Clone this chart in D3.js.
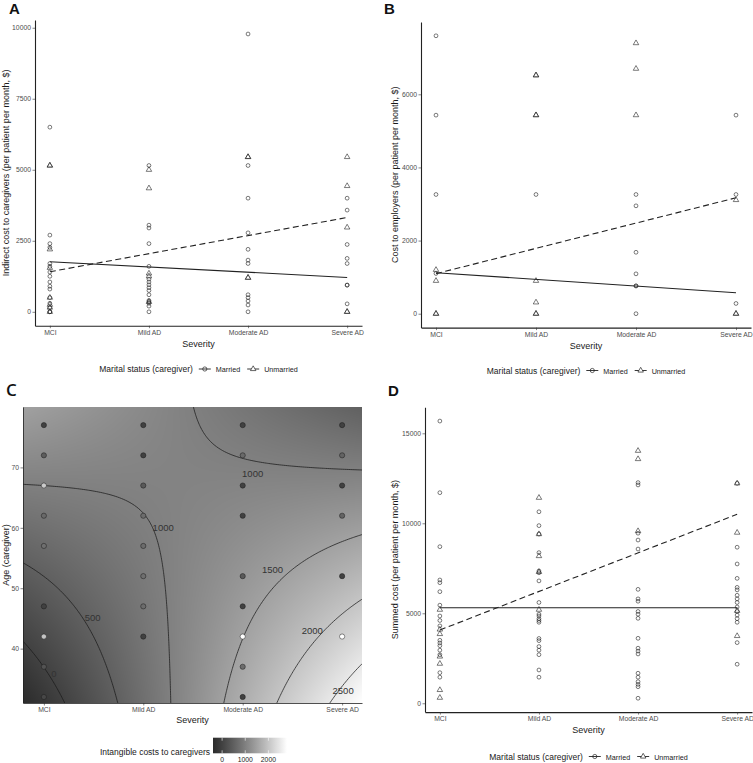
<!DOCTYPE html>
<html><head><meta charset="utf-8">
<script src="https://cdn.jsdelivr.net/npm/d3@7"></script>
<style>body{margin:0;background:#fff}</style>
</head><body>
<svg id="chart" width="753" height="763" xmlns="http://www.w3.org/2000/svg"></svg>
<script>
// ---------------- DATA ----------------
const severityLabels = ["MCI", "Mild AD", "Moderate AD", "Severe AD"];
const maritalLabels = ["Married", "Unmarried"];

// Panel A: indirect cost to caregivers ($/patient/month), per severity
const indirectMarried = [
  [6500, 2700, 2400, 2270, 1700, 1600, 1400, 1250, 1050, 900, 800, 500, 300, 150, 0, 0],
  [5150, 3050, 2950, 2400, 1600, 1150, 1050, 950, 850, 750, 600, 400, 350, 300, 200, 0],
  [9780, 5150, 4000, 2780, 2200, 1820, 1700, 600, 500, 380, 240, 0],
  [4000, 3580, 2370, 1880, 1700, 940, 940, 280]
];
const indirectUnmarried = [
  [5150, 5150, 2200, 1550, 500, 250, 150, 0],
  [5000, 4350, 1350, 1250, 350],
  [5450, 5450, 1200, 1200],
  [5450, 4430, 2970, 0, 0]
];
const indirectFitMarried = [1760, 1210];     // fitted value at MCI, Severe AD
const indirectFitUnmarried = [1410, 3320];
const indirectTicks = [0, 2500, 5000, 7500, 10000];

// Panel B: cost to employers
const employerMarried = [
  [7600, 5430, 3260, 1100],
  [3260],
  [3260, 2950, 1680, 1090, 760, 760, 0],
  [5430, 3260, 280]
];
const employerUnmarried = [
  [1200, 900, 0, 0],
  [6520, 6520, 5430, 5430, 900, 310, 0, 0],
  [7400, 6700, 5430],
  [3110, 0, 0]
];
const employerFitMarried = [1120, 575];
const employerFitUnmarried = [1095, 3170];
const employerTicks = [0, 2000, 4000, 6000];

// Panel D: summed cost
const summedMarried = [
  [15680, 11700, 8700, 6850, 6700, 6200, 5450, 4850, 4600, 4300, 3500, 3350, 3200, 2950, 2700, 1700, 1450],
  [10640, 9870, 9400, 8370, 7350, 7250, 6800, 5600, 4950, 4850, 4700, 4600, 4500, 3600, 3480, 3150, 2950, 2700, 1850, 1450],
  [12260, 12130, 9450, 9070, 8570, 6330, 5800, 5670, 5100, 4950, 4720, 3610, 3060, 2900, 2740, 1670, 1450, 1200, 1050, 920, 280],
  [12220, 8670, 7740, 6940, 6440, 6300, 6000, 5800, 5600, 5350, 5100, 4900, 4700, 4500, 3370, 2170]
];
const summedUnmarried = [
  [5200, 4100, 3850, 2600, 2200, 740, 310],
  [11420, 9400, 8180, 7300, 5200],
  [14030, 13570, 9570],
  [12220, 9480, 5140, 3740]
];
const summedFitMarried = [5310, 5310];
const summedFitUnmarried = [4070, 10500];
const summedTicks = [0, 5000, 10000, 15000];

// Panel C: intangible costs to caregivers, [age, cost] per severity
const intangibleMCI = [[77, 0], [72, 450], [67, 2100], [62, 650], [57, 750], [47, 0], [42, 2000], [37, 300], [32, 100]];
const intangibleMild = [[77, 0], [72, 0], [67, 400], [62, 700], [57, 700], [52, 750], [47, 700], [42, 0]];
const intangibleModerate = [[77, 0], [72, 650], [67, 0], [62, 0], [52, 400], [47, 0], [42, 2800], [37, 700], [32, 0]];
const intangibleSevere = [[77, 0], [72, 550], [67, 0], [62, 550], [52, 0], [42, 2800]];
// fitted surface: cost = b0 + b1*severity + b2*age + b3*severity*age
const surfaceCoef = [-2940, 1712.5, 58.25, -25];
const contourLevels = [0, 500, 1000, 1500, 2000, 2500];
// contour label anchors [severity, age, level]
const contourLabels = [[1.1, 35.8, 0], [1.49, 45.1, 500], [2.2, 60.0, 1000], [3.1, 69.0, 1000], [3.3, 53.0, 1500], [3.7, 42.9, 2000], [4.01, 33.1, 2500]];
const ageTicks = [40, 50, 60, 70];
const intangibleLegendTicks = [0, 1000, 2000];

// ---------------- DRAW ----------------
const svg = d3.select("#chart");
const FONT = "'Liberation Sans', Arial, Helvetica, sans-serif";
const TICKC = "#4d4d4d";
const sevIdx = d3.range(1, severityLabels.length + 1);

function styleAxis(sel, fs) {
  sel.selectAll("text").attr("font-family", FONT).attr("font-size", fs).attr("fill", TICKC);
  sel.selectAll(".tick line").attr("stroke", "#333").attr("stroke-width", 0.6);
  sel.select(".domain").attr("stroke", "#222").attr("stroke-width", 1.1);
}

function drawLegend(centerX, yBase) {
  const g = svg.append("g");
  const title = g.append("text").attr("x", 0).attr("y", yBase)
    .attr("font-family", FONT).attr("font-size", 8.5).attr("fill", "#1a1a1a")
    .text("Marital status (caregiver)");
  let xp = title.node().getComputedTextLength() + 6;
  maritalLabels.forEach((lab, i) => {
    const ky = yBase - 3;
    g.append("line").attr("x1", xp).attr("x2", xp + 12).attr("y1", ky).attr("y2", ky)
      .attr("stroke", "#222").attr("stroke-width", 0.9);
    if (i === 0) {
      g.append("circle").attr("cx", xp + 6).attr("cy", ky).attr("r", 2.1)
        .attr("fill", "none").attr("stroke", "#222").attr("stroke-width", 0.7);
    } else {
      g.append("path").attr("d", d3.symbol(d3.symbolTriangle).size(13)())
        .attr("transform", `translate(${xp + 6},${ky})`)
        .attr("fill", "#fff").attr("stroke", "#222").attr("stroke-width", 0.7);
    }
    const t = g.append("text").attr("x", xp + 17).attr("y", yBase)
      .attr("font-family", FONT).attr("font-size", 7.2).attr("fill", "#1a1a1a").text(lab);
    xp = xp + 17 + t.node().getComputedTextLength() + 7;
  });
  const total = xp - 7;
  g.attr("transform", `translate(${centerX - total / 2},0)`);
}

function scatterPanel(cfg) {
  const g = svg.append("g");
  const x = d3.scaleLinear().domain([1 - 0.15, severityLabels.length + 0.15]).range([cfg.left, cfg.right]);
  const vals = cfg.married.flat().concat(cfg.unmarried.flat());
  const [lo, hi] = d3.extent(vals);
  const pad = (hi - lo) * 0.05;
  const y = d3.scaleLinear().domain([lo - pad, hi + pad]).range([cfg.bottom, cfg.top]);

  const ax = g.append("g").attr("transform", `translate(0,${cfg.bottom})`)
    .call(d3.axisBottom(x).tickValues(sevIdx).tickFormat(i => severityLabels[i - 1]).tickSize(2.5).tickSizeOuter(0).tickPadding(2));
  styleAxis(ax, 6.8);
  const ay = g.append("g").attr("transform", `translate(${cfg.left},0)`)
    .call(d3.axisLeft(y).tickValues(cfg.yTicks).tickFormat(d3.format("d")).tickSize(2.5).tickSizeOuter(0).tickPadding(1.5));
  styleAxis(ay, 6.8);

  cfg.married.forEach((arr, i) => {
    g.selectAll(null).data(arr).enter().append("circle")
      .attr("cx", x(i + 1)).attr("cy", d => y(d)).attr("r", 1.9)
      .attr("fill", "none").attr("stroke", "#222").attr("stroke-width", 0.6);
  });
  cfg.unmarried.forEach((arr, i) => {
    g.selectAll(null).data(arr).enter().append("path")
      .attr("d", d3.symbol(d3.symbolTriangle).size(13)())
      .attr("transform", d => `translate(${x(i + 1)},${y(d)})`)
      .attr("fill", "none").attr("stroke", "#222").attr("stroke-width", 0.6);
  });

  const line = d3.line().x(d => x(d[0])).y(d => y(d[1]));
  const ends = [1, severityLabels.length];
  g.append("path").attr("d", line(ends.map((s, k) => [s, cfg.fitM[k]])))
    .attr("fill", "none").attr("stroke", "#222").attr("stroke-width", 1.1);
  g.append("path").attr("d", line(ends.map((s, k) => [s, cfg.fitU[k]])))
    .attr("fill", "none").attr("stroke", "#222").attr("stroke-width", 1.1).attr("stroke-dasharray", "6,3.5");

  g.append("text").attr("x", (cfg.left + cfg.right) / 2).attr("y", cfg.bottom + 21)
    .attr("text-anchor", "middle").attr("font-family", FONT).attr("font-size", 9).attr("fill", "#1a1a1a").text("Severity");
  g.append("text").attr("transform", `translate(${cfg.titleX},${(cfg.top + cfg.bottom) / 2}) rotate(-90)`)
    .attr("text-anchor", "middle").attr("dy", "0.35em").attr("font-family", FONT).attr("font-size", 9).attr("fill", "#1a1a1a").text(cfg.yTitle);
  g.append("text").attr("x", cfg.letterX).attr("y", cfg.letterY).attr("font-family", FONT)
    .attr("font-weight", "bold").attr("font-size", 15).attr("fill", "#111").text(cfg.letter);

  drawLegend((cfg.left + cfg.right) / 2, cfg.legendY);
}

scatterPanel({ left: 35, right: 362, top: 20.1, bottom: 325.7, married: indirectMarried, unmarried: indirectUnmarried,
  fitM: indirectFitMarried, fitU: indirectFitUnmarried, yTicks: indirectTicks, titleX: 6,
  yTitle: "Indirect cost to caregivers (per patient per month, $)", letter: "A", letterX: 9, letterY: 13.5, legendY: 372 });
scatterPanel({ left: 421, right: 751, top: 21.9, bottom: 327.6, married: employerMarried, unmarried: employerUnmarried,
  fitM: employerFitMarried, fitU: employerFitUnmarried, yTicks: employerTicks, titleX: 395,
  yTitle: "Cost to employers (per patient per month, $)", letter: "B", letterX: 384, letterY: 13.5, legendY: 373.5 });
scatterPanel({ left: 425, right: 752, top: 407.2, bottom: 712.1, married: summedMarried, unmarried: summedUnmarried,
  fitM: summedFitMarried, fitU: summedFitUnmarried, yTicks: summedTicks, titleX: 395,
  yTitle: "Summed cost (per patient per month, $)", letter: "D", letterX: 388, letterY: 395.5, legendY: 759.5 });

// ---------------- PANEL C ----------------
(function () {
  const L = 23, R = 362, T = 407, B = 703;
  const g = svg.append("g");
  const cx = d3.scaleLinear().domain([0.79, 4.2]).range([L, R]);
  const cy = d3.scaleLinear().domain([31, 80]).range([B, T]);
  const f = (s, a) => surfaceCoef[0] + surfaceCoef[1] * s + surfaceCoef[2] * a + surfaceCoef[3] * s * a;

  const W = R - L, H = B - T;
  const corners = [[cx.domain()[0], cy.domain()[0]], [cx.domain()[1], cy.domain()[0]], [cx.domain()[0], cy.domain()[1]], [cx.domain()[1], cy.domain()[1]]].map(p => f(p[0], p[1]));
  const fillScale = d3.scaleLinear().domain(d3.extent(corners)).range(["#2b2b2b", "#ffffff"]).interpolate(d3.interpolateLab).clamp(true);

  const canvas = document.createElement("canvas");
  canvas.width = W; canvas.height = H;
  const ctx = canvas.getContext("2d");
  const img = ctx.createImageData(W, H);
  for (let j = 0; j < H; j++) {
    const a = cy.invert(T + j + 0.5);
    for (let i = 0; i < W; i++) {
      const s = cx.invert(L + i + 0.5);
      const c = d3.rgb(fillScale(f(s, a)));
      const k = (j * W + i) * 4;
      img.data[k] = c.r; img.data[k + 1] = c.g; img.data[k + 2] = c.b; img.data[k + 3] = 255;
    }
  }
  ctx.putImageData(img, 0, 0);
  g.append("image").attr("x", L).attr("y", T).attr("width", W).attr("height", H)
    .attr("preserveAspectRatio", "none").attr("href", canvas.toDataURL());

  const nx = 220, ny = 220, s0 = 0.4, s1 = 4.6, a0 = 25, a1 = 86;
  const ds = (s1 - s0) / (nx - 1), da = (a1 - a0) / (ny - 1);
  const grid = new Array(nx * ny);
  for (let j = 0; j < ny; j++) for (let i = 0; i < nx; i++) grid[j * nx + i] = f(s0 + i * ds, a0 + j * da);
  const conts = d3.contours().size([nx, ny]).thresholds(contourLevels)(grid);
  svg.append("defs").append("clipPath").attr("id", "clipC").append("rect")
    .attr("x", L).attr("y", T).attr("width", W).attr("height", H);
  const line = d3.line().x(p => cx(s0 + (p[0] - 0.5) * ds)).y(p => cy(a0 + (p[1] - 0.5) * da));
  const cg = g.append("g").attr("clip-path", "url(#clipC)");
  conts.forEach(c => {
    c.coordinates.forEach(poly => poly.forEach(ring => {
      cg.append("path").attr("d", line(ring)).attr("fill", "none").attr("stroke", "#1a1a1a").attr("stroke-width", 0.75);
    }));
  });

  [intangibleMCI, intangibleMild, intangibleModerate, intangibleSevere].forEach((arr, i) => {
    g.selectAll(null).data(arr).enter().append("circle")
      .attr("cx", cx(i + 1)).attr("cy", d => cy(d[0])).attr("r", 2.6)
      .attr("fill", d => fillScale(d[1])).attr("stroke", "#1a1a1a").attr("stroke-width", 0.5);
  });

  g.selectAll(null).data(contourLabels).enter().append("text")
    .attr("x", d => cx(d[0])).attr("y", d => cy(d[1])).attr("dy", "0.35em").attr("text-anchor", "middle")
    .attr("font-family", FONT).attr("font-size", 9.5).attr("fill", "#333").text(d => d[2]);

  const ax = g.append("g").attr("transform", `translate(0,${B})`)
    .call(d3.axisBottom(cx).tickValues(sevIdx).tickFormat(i => severityLabels[i - 1]).tickSize(2.5).tickSizeOuter(0).tickPadding(2));
  styleAxis(ax, 6.8);
  ax.select(".domain").attr("stroke-width", 0.8);
  const ay = g.append("g").attr("transform", `translate(${L},0)`)
    .call(d3.axisLeft(cy).tickValues(ageTicks).tickSize(2.5).tickSizeOuter(0).tickPadding(1.5));
  styleAxis(ay, 6.8);
  ay.select(".domain").attr("stroke-width", 0.8);

  g.append("text").attr("x", (L + R) / 2).attr("y", B + 19.5).attr("text-anchor", "middle")
    .attr("font-family", FONT).attr("font-size", 9).attr("fill", "#1a1a1a").text("Severity");
  g.append("text").attr("transform", `translate(6,${(T + B) / 2}) rotate(-90)`).attr("text-anchor", "middle").attr("dy", "0.35em")
    .attr("font-family", FONT).attr("font-size", 9).attr("fill", "#1a1a1a").text("Age (caregiver)");
  g.append("text").attr("x", 6).attr("y", 396).attr("font-family", "'Open Sans', sans-serif")
    .attr("font-weight", 600).attr("font-size", 17).attr("fill", "#111").text("C");

  const barX = 213, barW = 74, barY = 737.7, barH = 15.6;
  const bx = d3.scaleLinear().domain(fillScale.domain()).range([barX, barX + barW]);
  const grad = svg.select("defs").append("linearGradient").attr("id", "gradC");
  d3.range(0, 1.0001, 0.05).forEach(t => {
    const v = fillScale.domain()[0] + t * (fillScale.domain()[1] - fillScale.domain()[0]);
    grad.append("stop").attr("offset", t).attr("stop-color", fillScale(v));
  });
  g.append("rect").attr("x", barX).attr("y", barY).attr("width", barW).attr("height", barH).attr("fill", "url(#gradC)");
  intangibleLegendTicks.forEach(v => {
    g.append("line").attr("x1", bx(v)).attr("x2", bx(v)).attr("y1", barY).attr("y2", barY + 3).attr("stroke", "#fff").attr("stroke-width", 0.6);
    g.append("line").attr("x1", bx(v)).attr("x2", bx(v)).attr("y1", barY + barH - 3).attr("y2", barY + barH).attr("stroke", "#fff").attr("stroke-width", 0.6);
    g.append("text").attr("x", bx(v)).attr("y", 762.3).attr("text-anchor", "middle")
      .attr("font-family", FONT).attr("font-size", 6.8).attr("fill", "#1a1a1a").text(v);
  });
  g.append("text").attr("x", barX - 3).attr("y", 754.5).attr("text-anchor", "end")
    .attr("font-family", FONT).attr("font-size", 8.5).attr("fill", "#1a1a1a").text("Intangible costs to caregivers");
})();
</script>
</body></html>
